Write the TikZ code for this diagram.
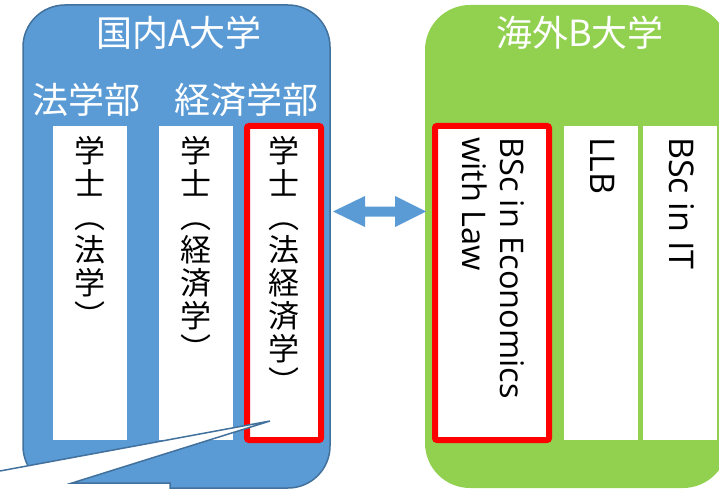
\documentclass[tikz,border=0pt]{standalone}
\usepackage{fontspec}
\newfontfamily\jp{Noto Sans CJK JP}
\newfontfamily\en{Open Sans}
\definecolor{blueA}{HTML}{5B9BD5}
\definecolor{blueS}{HTML}{41719C}
\definecolor{greenB}{HTML}{92D050}
\begin{document}
\begin{tikzpicture}[x=1pt,y=-1pt,
  unibox/.style={rectangle, inner sep=0, minimum height=483pt},
  colbox/.style={rectangle, fill=white, inner sep=0, minimum width=74pt, minimum height=314pt},
  redbox/.style={colbox, draw=red, line width=6pt, rounded corners=2pt},
  ttl/.style={text=white, font=\jp\fontsize{36}{40}\selectfont, inner sep=0},
  vjp/.style={font=\jp\fontsize{31}{33}\selectfont, align=center, anchor=north, inner sep=0},
  ven/.style={font=\en\fontsize{34}{40}\selectfont, rotate=-90, anchor=base west, inner sep=0},
  veneco/.style={ven, font=\en\fontsize{32.5}{40}\selectfont}]
\useasboundingbox (0,0) rectangle (719,489);
% universities
\node[unibox, fill=blueA, draw=blueS, line width=1.5pt, rounded corners=42pt, minimum width=307pt] (uniA) at (176.5,246.5) {};
\node[unibox, fill=greenB, rounded corners=45pt, minimum width=303pt] (uniB) at (576.5,246.5) {};
% titles
\node[ttl] (tA) at (179,33) {国内A大学};
\node[ttl] (tB) at (580,33) {海外B大学};
\node[ttl] (law) at (86,100) {法学部};
\node[ttl] (eco) at (246,100) {経済学部};
% columns
\node[colbox] (c1) at (90,283) {};
\node[colbox] (c2) at (196,283) {};
\node[redbox] (c3) at (284,283) {};
\node[redbox, minimum width=114pt] (d1) at (492,283) {};
\node[colbox] (d2) at (601,283) {};
\node[colbox] (d3) at (680,283) {};
% vertical Japanese texts
\node[vjp] (c1t) at (90,136) {学\\士\\︵\\法\\学\\︶};
\node[vjp] (c2t) at (196,136) {学\\士\\︵\\経\\済\\学\\︶};
\node[vjp] (c3t) at (284,136) {学\\士\\︵\\法\\経\\済\\学\\︶};
% rotated English texts
\node[veneco] (d1a) at (500,137) {BSc in Economics};
\node[veneco] (d1b) at (462,137) {with Law};
\node[ven] (d2t) at (590,137) {LLB};
\node[ven] (d3t) at (669,137) {BSc in IT};
% double arrow
\fill[blueA] (333,211.5) -- (365,196) -- (365,206.5) -- (395,206.5) -- (395,196) -- (426,211.5)
  -- (395,227) -- (395,216.5) -- (365,216.5) -- (365,227) -- cycle;
% callout
\coordinate (tip) at (270,421);
\filldraw[fill=white, draw=blueS, line width=1.5pt] (170,500) -- (170,483) -- (72,483) -- (tip)
  -- (-65,483) -- (-90,483) -- (-90,500) -- cycle;
\end{tikzpicture}
\end{document}
